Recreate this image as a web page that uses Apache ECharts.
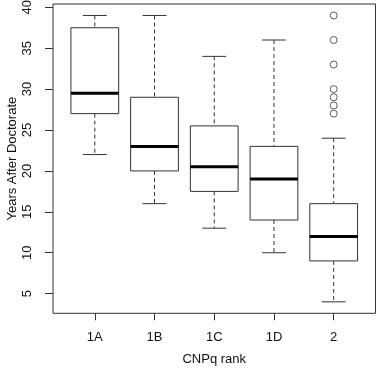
<!DOCTYPE html>
<html>
<head>
<meta charset="utf-8">
<script src="https://cdn.jsdelivr.net/npm/echarts@6/dist/echarts.min.js"></script>
<style>
  html, body { margin: 0; padding: 0; background: #fff; }
  #chart { width: 378px; height: 369px; }
</style>
</head>
<body>
<div id="chart"></div>
<script>
// box stats per rank
const ranks = ['1A', '1B', '1C', '1D', '2'];
const lowerWhisker = [22, 16, 13, 10, 4];
const q1 = [27, 20, 17.5, 14, 9];
const median = [29.5, 23, 20.5, 19, 12];
const q3 = [37.5, 29, 25.5, 23, 16];
const upperWhisker = [39, 39, 34, 36, 24];
// outliers only in rank "2"
const outlierRank = 5;
const outliers = [39, 36, 33, 30, 29, 28, 27];
const yTicks = [5, 10, 15, 20, 25, 30, 35, 40];

const LINE = '#333';
const BOX_W = 0.8;
const CAP_W = 0.4;

const boxData = ranks.map(function (r, i) {
  return [i + 1, lowerWhisker[i], q1[i], median[i], q3[i], upperWhisker[i]];
});

function renderBox(params, api) {
  var x = api.value(0);
  var pLo = api.coord([x, api.value(1)]);
  var pQ1 = api.coord([x, api.value(2)]);
  var pMed = api.coord([x, api.value(3)]);
  var pQ3 = api.coord([x, api.value(4)]);
  var pHi = api.coord([x, api.value(5)]);
  var half = api.size([BOX_W / 2, 0])[0];
  var cap = api.size([CAP_W / 2, 0])[0];
  var cx = pMed[0];
  var thin = { stroke: LINE, lineWidth: 1 };
  var dashed = { stroke: LINE, lineWidth: 1, lineDash: [4, 3] };
  return {
    type: 'group',
    children: [
      { type: 'line', shape: { x1: cx, y1: pHi[1], x2: cx, y2: pQ3[1] }, style: dashed },
      { type: 'line', shape: { x1: cx, y1: pQ1[1], x2: cx, y2: pLo[1] }, style: dashed },
      { type: 'line', shape: { x1: cx - cap, y1: pHi[1], x2: cx + cap, y2: pHi[1] }, style: thin },
      { type: 'line', shape: { x1: cx - cap, y1: pLo[1], x2: cx + cap, y2: pLo[1] }, style: thin },
      { type: 'rect', shape: { x: cx - half, y: pQ3[1], width: half * 2, height: pQ1[1] - pQ3[1] },
        style: { fill: '#fff', stroke: LINE, lineWidth: 1 } },
      { type: 'line', shape: { x1: cx - half, y1: pMed[1], x2: cx + half, y2: pMed[1] },
        style: { stroke: '#000', lineWidth: 3 } }
    ]
  };
}

const chart = echarts.init(document.getElementById('chart'), null, { renderer: 'canvas' });

chart.setOption({
  animation: false,
  backgroundColor: '#fff',
  textStyle: { fontFamily: 'Liberation Sans, Arial, sans-serif', color: '#111' },
  grid: {
    left: 53, right: 2.5, top: 4, bottom: 55.7,
    outerBoundsMode: 'none',
    containLabel: false,
    show: true, borderColor: LINE, borderWidth: 1, backgroundColor: 'transparent'
  },
  xAxis: {
    type: 'value',
    min: 0.3,
    max: 5.7,
    name: 'CNPq rank',
    nameLocation: 'middle',
    nameGap: 40,
    nameMoveOverlap: false,
    nameTextStyle: { fontSize: 13, color: '#111' },
    axisLine: { show: false },
    splitLine: { show: false },
    axisTick: { show: true, length: 7, customValues: [1, 2, 3, 4, 5], lineStyle: { color: LINE } },
    axisLabel: {
      customValues: [1, 2, 3, 4, 5],
      fontSize: 13, color: '#111', margin: 18,
      formatter: function (v) { return ranks[Math.round(v) - 1]; }
    }
  },
  yAxis: {
    type: 'value',
    min: 2.6,
    max: 40.4,
    name: 'Years After Doctorate',
    nameLocation: 'middle',
    nameGap: 34,
    nameMoveOverlap: false,
    nameTextStyle: { fontSize: 13, color: '#111' },
    axisLine: { show: false },
    splitLine: { show: false },
    axisTick: { show: true, length: 8, customValues: yTicks, lineStyle: { color: LINE } },
    axisLabel: {
      customValues: yTicks,
      rotate: 90,
      fontSize: 13, color: '#111', margin: 19
    }
  },
  series: [
    {
      type: 'custom',
      renderItem: renderBox,
      data: boxData,
      encode: { x: 0, y: [1, 2, 3, 4, 5] },
      z: 2
    },
    {
      type: 'scatter',
      data: outliers.map(function (v) { return [outlierRank, v]; }),
      symbol: 'circle',
      symbolSize: 7,
      itemStyle: { color: '#fff', borderColor: LINE, borderWidth: 1 },
      z: 3
    }
  ]
});
</script>
</body>
</html>
